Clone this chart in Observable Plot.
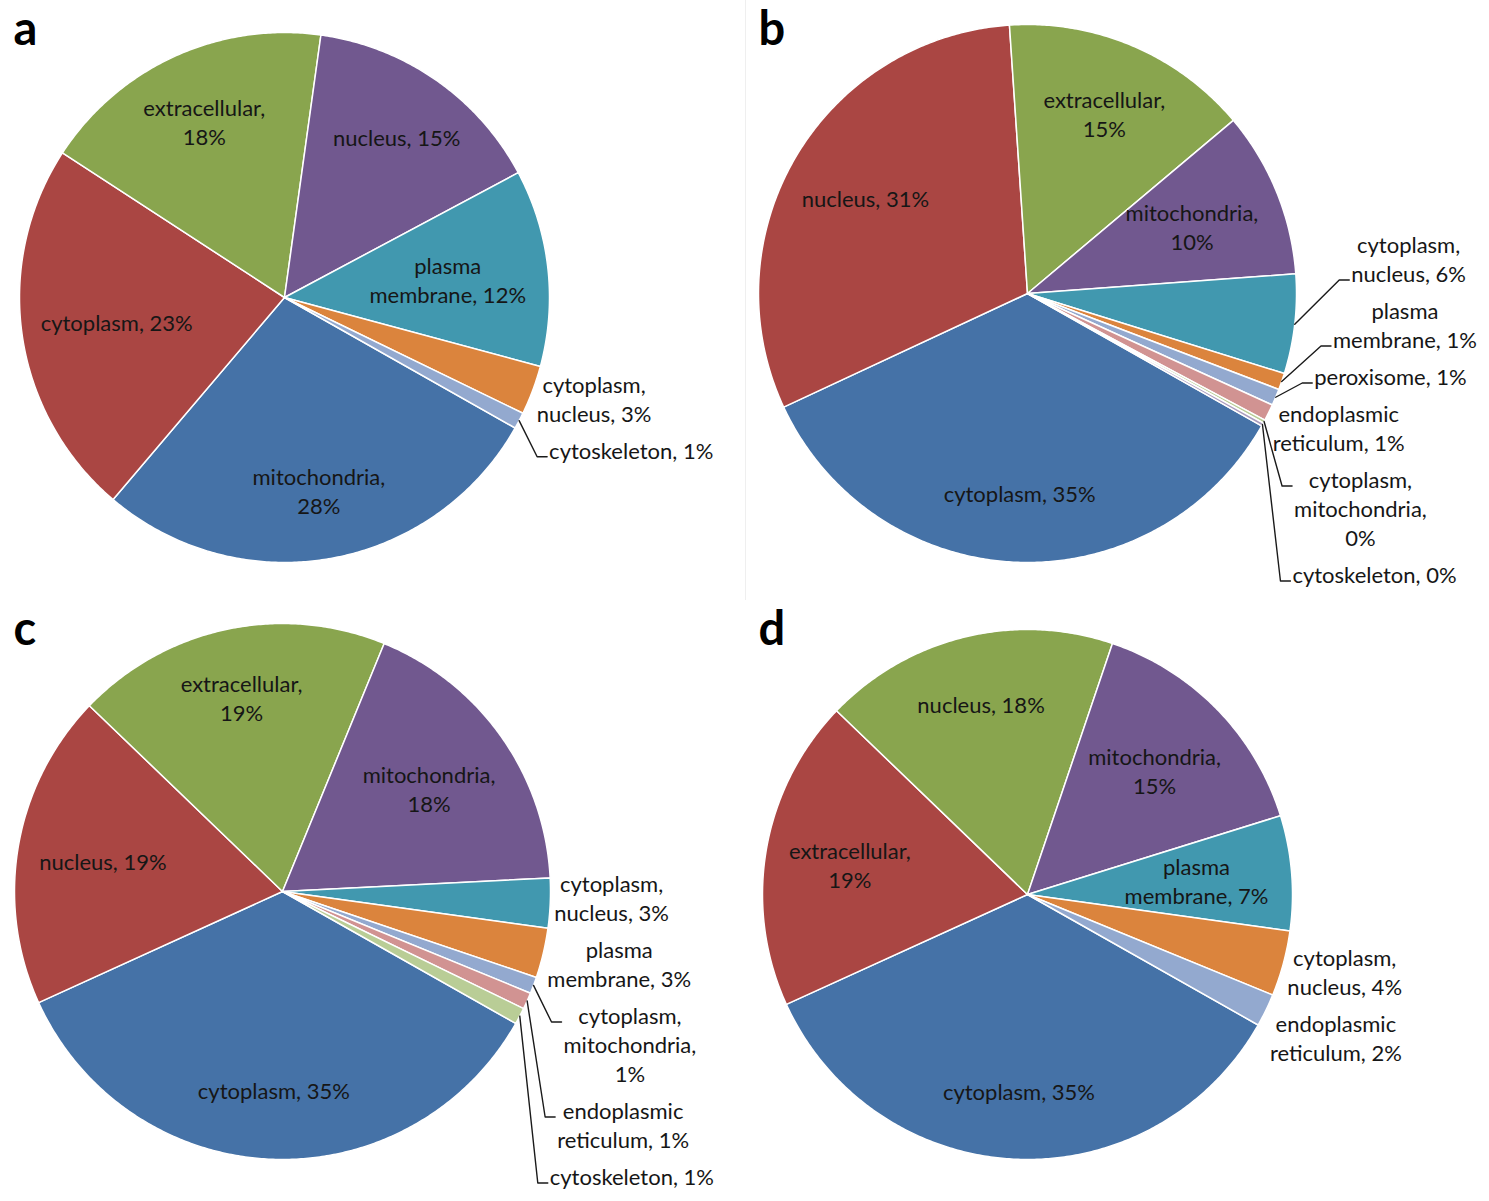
<!DOCTYPE html>
<html>
<head>
<meta charset="utf-8">
<script src="https://cdn.jsdelivr.net/npm/d3@7"></script>
<script src="https://cdn.jsdelivr.net/npm/@observablehq/plot@0.6"></script>
<style>
  body { margin: 0; background: #ffffff; }
  #grid { display: grid; grid-template-columns: 745px 744px; grid-template-rows: 600px 601px; width: 1489px; height: 1201px; }
  .panel { position: relative; overflow: hidden; }
  .panel svg { display: block; }
  .panel.edge { box-shadow: inset 1px 0 0 #efefef; }
</style>
</head>
<body>
<div id="grid"></div>
<script>
// ---------------- DATA ----------------
const panelLetters = ["a", "b", "c", "d"];

const catsA = ["mitochondria", "cytoplasm", "extracellular", "nucleus", "plasma membrane", "cytoplasm, nucleus", "cytoskeleton"];
const valsA = [28, 23, 18, 15, 12, 3, 1];
const labelsA = ["mitochondria,\n28%", "cytoplasm, 23%", "extracellular,\n18%", "nucleus, 15%", "plasma\nmembrane, 12%", "cytoplasm,\nnucleus, 3%", "cytoskeleton, 1%"];

const catsB = ["cytoplasm", "nucleus", "extracellular", "mitochondria", "cytoplasm, nucleus", "plasma membrane", "peroxisome", "endoplasmic reticulum", "cytoplasm, mitochondria", "cytoskeleton"];
const valsB = [35, 31, 15, 10, 6, 1, 1, 1, 0.2, 0.2];
const labelsB = ["cytoplasm, 35%", "nucleus, 31%", "extracellular,\n15%", "mitochondria,\n10%", "cytoplasm,\nnucleus, 6%", "plasma\nmembrane, 1%", "peroxisome, 1%", "endoplasmic\nreticulum, 1%", "cytoplasm,\nmitochondria,\n0%", "cytoskeleton, 0%"];

const catsC = ["cytoplasm", "nucleus", "extracellular", "mitochondria", "cytoplasm, nucleus", "plasma membrane", "cytoplasm, mitochondria", "endoplasmic reticulum", "cytoskeleton"];
const valsC = [35, 19, 19, 18, 3, 3, 1, 1, 1];
const labelsC = ["cytoplasm, 35%", "nucleus, 19%", "extracellular,\n19%", "mitochondria,\n18%", "cytoplasm,\nnucleus, 3%", "plasma\nmembrane, 3%", "cytoplasm,\nmitochondria,\n1%", "endoplasmic\nreticulum, 1%", "cytoskeleton, 1%"];

const catsD = ["cytoplasm", "extracellular", "nucleus", "mitochondria", "plasma membrane", "cytoplasm, nucleus", "endoplasmic reticulum"];
const valsD = [35, 19, 18, 15, 7, 4, 2];
const labelsD = ["cytoplasm, 35%", "extracellular,\n19%", "nucleus, 18%", "mitochondria,\n15%", "plasma\nmembrane, 7%", "cytoplasm,\nnucleus, 4%", "endoplasmic\nreticulum, 2%"];

// ---------------- STYLE / LAYOUT ----------------
const palette = ["#4572A7", "#AA4643", "#89A54E", "#71588F", "#4198AF", "#DB843D", "#93A9CF", "#D19392", "#B9CD96", "#A99BBD"];
const FONT = "Lato, 'Open Sans', sans-serif";
const FS = 22;            // label font size
const LH = 29;            // label line height (px)
const START = 119.5;      // first slice angle, degrees clockwise from 12 o'clock
const INSIDE_MIN = 7;     // slices at or above this value get inside labels
const GAP = 8;

const layouts = [
  {w: 745, h: 600, cx: 284, cy: 297, r: 265, floor: 600},
  {w: 744, h: 600, cx: 282, cy: 293, r: 269, floor: 588},
  {w: 745, h: 601, cx: 282, cy: 291, r: 268, floor: 590},
  {w: 744, h: 601, cx: 282, cy: 294, r: 265, floor: 600}
];

const pies = [
  {cats: catsA, vals: valsA, labels: labelsA},
  {cats: catsB, vals: valsB, labels: labelsB},
  {cats: catsC, vals: valsC, labels: labelsC},
  {cats: catsD, vals: valsD, labels: labelsD}
];

// ---------------- HELPERS ----------------
const ctx = document.createElement("canvas").getContext("2d");
ctx.font = `${FS}px Lato`;
const textW = s => d3.max(s.split("\n"), l => ctx.measureText(l).width);
const rad = a => a * Math.PI / 180;
const polar = (a, rr) => [rr * Math.sin(rad(a)), -rr * Math.cos(rad(a))];

function arcPoints(a0, a1, r) {
  const pts = [[0, 0]];
  const n = Math.max(2, Math.ceil((a1 - a0) / 0.5));
  for (let k = 0; k <= n; k++) pts.push(polar(a0 + (a1 - a0) * k / n, r));
  return pts;
}

function buildPanel(pie, L, letter) {
  const total = d3.sum(pie.vals);
  let acc = 0;
  const slices = pie.vals.map((v, i) => {
    const a0 = START + acc / total * 360;
    acc += v;
    const a1 = START + acc / total * 360;
    return {i, v, cat: pie.cats[i], label: pie.labels[i], color: palette[i], a0, a1, mid: (a0 + a1) / 2};
  });

  // inside labels
  const inside = slices.filter(s => s.v >= INSIDE_MIN).map(s => {
    const n = s.label.split("\n").length;
    const w = textW(s.label), hh = n * LH - 8;
    let pos = polar(s.mid, L.r * 0.5);
    for (let f = 0.74; f >= 0.4; f -= 0.01) {
      const [x, y] = polar(s.mid, L.r * f);
      const corners = [[x - w / 2, y - hh / 2], [x + w / 2, y - hh / 2], [x - w / 2, y + hh / 2], [x + w / 2, y + hh / 2]];
      if (corners.every(([a, b]) => Math.hypot(a, b) <= 0.93 * L.r)) { pos = [x, y]; break; }
    }
    return {...s, tx: pos[0], ty: pos[1]};
  });

  // outside labels (stacked on the right)
  const outs = slices.filter(s => s.v < INSIDE_MIN).sort((a, b) => a.mid - b.mid).map(s => {
    const n = s.label.split("\n").length;
    const p0 = polar(s.mid, L.r);
    return {...s, n, hgt: n * LH, p0, w: textW(s.label)};
  });
  let prevBottom = -Infinity;
  for (const o of outs) {
    o.top = Math.max(o.p0[1] + 8 - o.hgt / 2, prevBottom + GAP);
    prevBottom = o.top + o.hgt;
  }
  let limit = L.floor - L.cy;
  for (let k = outs.length - 1; k >= 0; k--) {
    const o = outs[k];
    if (o.top + o.hgt > limit) o.top = limit - o.hgt;
    limit = o.top - GAP;
  }
  const leaders = [];
  for (const o of outs) {
    const bottom = o.top + o.hgt;
    o.leader = o.p0[1] < o.top || o.p0[1] > bottom;
    const first = o.top + LH / 2, last = bottom - LH / 2;
    const ay = Math.max(first, Math.min(last, o.p0[1])) + 7;
    const rise = Math.max(0, o.p0[1] - ay);
    const left = o.p0[0] + (o.leader ? 30 + rise * 0.6 : 4);
    o.tx = left + o.w / 2;
    o.ty = o.top + o.hgt / 2;
    if (o.leader) {
      leaders.push({key: o.i, x: o.p0[0], y: o.p0[1]});
      leaders.push({key: o.i, x: left - 12, y: ay});
      leaders.push({key: o.i, x: left - 2, y: ay});
    }
  }

  const marks = slices.map(s => Plot.line(arcPoints(s.a0, s.a1, L.r), {
    x: d => d[0], y: d => d[1], curve: "linear-closed",
    fill: s.color, stroke: "#ffffff", strokeWidth: 1.5, strokeLinejoin: "round"
  }));
  marks.push(Plot.line(leaders, {x: "x", y: "y", z: "key", stroke: "#1a1a1a", strokeWidth: 1.4}));
  marks.push(Plot.text(inside.concat(outs), {
    x: "tx", y: "ty", text: "label", textAnchor: "middle", lineAnchor: "middle",
    fontSize: FS, lineHeight: LH / FS, fill: "#161616", fontFamily: FONT
  }));
  marks.push(Plot.text([letter], {
    frameAnchor: "top-left", text: d => d, dx: 13, dy: 11, lineAnchor: "top",
    fontSize: 47, fontWeight: "bold", fill: "#000", fontFamily: FONT
  }));

  return Plot.plot({
    width: L.w, height: L.h, margin: 0,
    x: {domain: [-L.cx, L.w - L.cx], range: [0, L.w], axis: null},
    y: {domain: [-L.cy, L.h - L.cy], range: [0, L.h], axis: null},
    style: {background: "transparent", fontFamily: FONT, overflow: "visible"},
    marks
  });
}

const grid = document.getElementById("grid");
pies.forEach((pie, k) => {
  const div = document.createElement("div");
  div.className = "panel" + (k === 1 ? " edge" : "");
  div.appendChild(buildPanel(pie, layouts[k], panelLetters[k]));
  grid.appendChild(div);
});
</script>
</body>
</html>
